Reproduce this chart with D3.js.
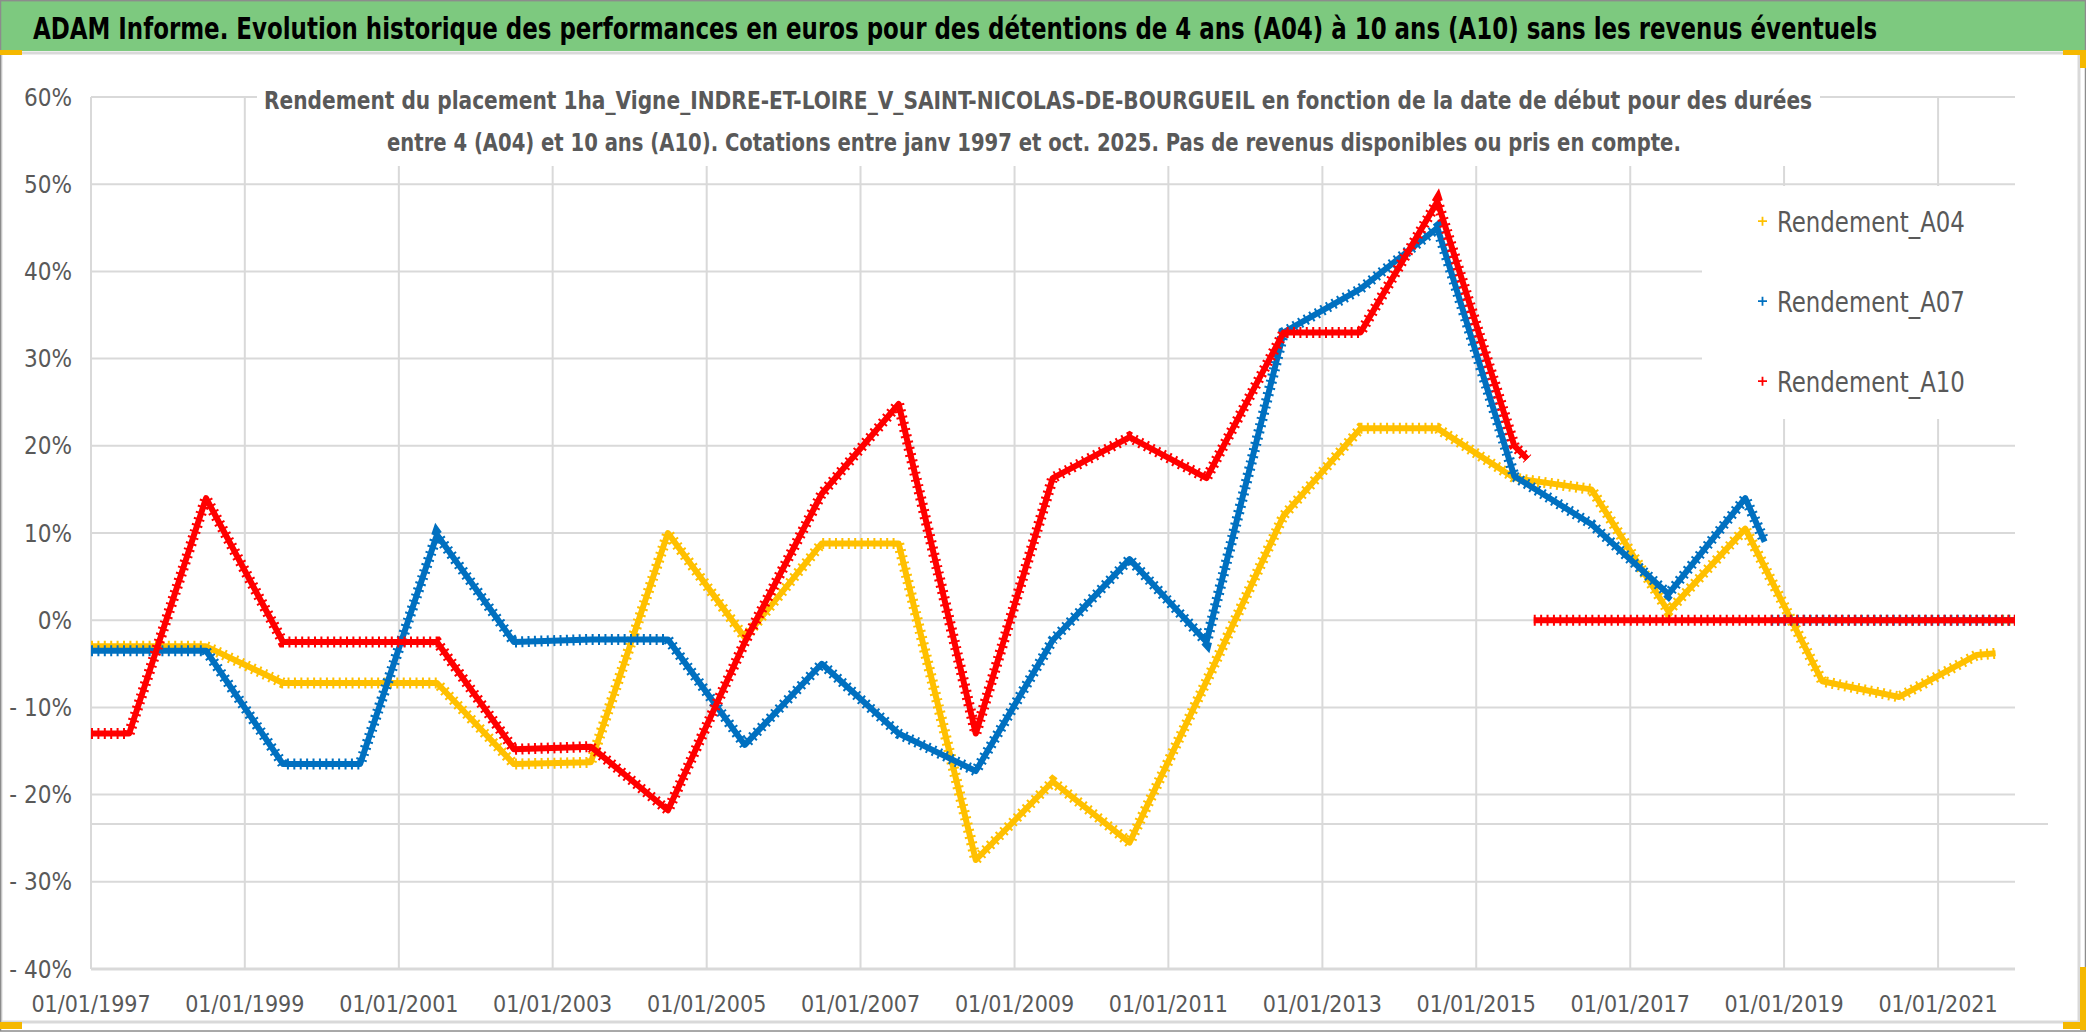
<!DOCTYPE html>
<html><head><meta charset="utf-8">
<script src="https://cdn.jsdelivr.net/npm/d3@7"></script>
<style>
html,body{margin:0;padding:0;background:#fff;overflow:hidden}
svg{display:block}
text{font-family:"Liberation Sans Narrow","DejaVu Sans Condensed","Roboto Condensed",sans-serif}
</style></head><body>
<svg id="chart" width="2086" height="1032"></svg>
<script>
// ---------- texts ----------
const titleText = "ADAM Informe. Evolution historique des performances en euros pour des détentions de 4 ans (A04) à 10 ans (A10) sans les revenus éventuels";
const subtitleLine1 = "Rendement du placement 1ha_Vigne_INDRE-ET-LOIRE_V_SAINT-NICOLAS-DE-BOURGUEIL en fonction de la date de début pour des durées";
const subtitleLine2 = "entre 4 (A04) et 10 ans (A10). Cotations entre janv 1997 et oct. 2025. Pas de revenus disponibles ou pris en compte.";

// ---------- series ----------
const seriesNames = ["Rendement_A04", "Rendement_A07", "Rendement_A10"];
const seriesColors = ["#FFC000", "#0070C0", "#FF0000"];

// dates (start of holding) and returns in %, null = break in the series
const datesA04 = ["1997-01","1998-07","1999-07","2001-07","2002-07","2003-07","2004-07","2005-07","2006-07","2007-07","2008-07","2009-07","2010-07","2011-07","2012-07","2013-07","2014-07","2015-07","2016-07","2017-07","2018-07","2019-07","2020-07","2021-07","2021-10","2021-10","2021-11","2022-01"];
const valuesA04 = [-3.0,-3.0,-7.2,-7.2,-16.5,-16.3,10.0,-2.0,8.8,8.8,-27.5,-18.5,-25.5,-7.0,12.0,22.0,22.0,16.3,15.0,1.0,10.5,-7.0,-8.8,-4.0,-3.8,null,0,0];

const datesA07 = ["1997-01","1998-07","1999-07","2000-07","2001-07","2002-07","2003-07","2004-07","2005-07","2006-07","2007-07","2008-07","2009-07","2010-07","2011-07","2012-07","2013-07","2014-07","2015-07","2016-07","2017-07","2018-07","2018-10","2018-10","2018-11","2022-01"];
const valuesA07 = [-3.5,-3.5,-16.5,-16.5,9.8,-2.5,-2.2,-2.2,-14.3,-5.0,-13.0,-17.3,-2.3,7.0,-2.5,33.0,38.0,45.0,16.5,11.0,3.0,14.0,9.0,null,0,0];

const datesA10 = ["1997-01","1997-07","1998-07","1999-07","2001-07","2002-07","2003-07","2004-07","2005-07","2006-07","2007-07","2008-07","2009-07","2010-07","2011-07","2012-07","2013-07","2014-07","2015-07","2015-09","2015-09","2015-10","2022-01"];
const valuesA10 = [-13.0,-13.0,14.0,-2.5,-2.5,-14.8,-14.5,-21.8,-2.5,14.5,24.8,-13.0,16.3,21.0,16.3,33.0,33.0,48.0,20.0,18.5,null,0,0];

// ---------- axes ----------
const yTickValues = [-40,-30,-20,-10,0,10,20,30,40,50,60];
const xTickYears = [1997,1999,2001,2003,2005,2007,2009,2011,2013,2015,2017,2019,2021];
const xDomain = ["1997-01","2022-01"];

// ---------- drawing ----------
const W = 2086, H = 1032;
const svg = d3.select("#chart");
const parse = d3.timeParse("%Y-%m");
const plot = {left: 91, right: 2015, top: 97, bottom: 969};

const x = d3.scaleTime().domain(xDomain.map(parse)).range([plot.left, plot.right]);
const y = d3.scaleLinear().domain([-40, 60]).range([plot.bottom, plot.top]);

const grey = "#d9d9d9", textGrey = "#595959";

// put a text at (px, py) and squeeze it horizontally to a target width
function fitText(parent, str, px, py, width, size, weight, fill) {
  const g = parent.append("g");
  const t = g.append("text").attr("x", 0).attr("y", 0).attr("font-size", size)
    .attr("font-weight", weight).attr("fill", fill).text(str);
  const natural = t.node().getComputedTextLength();
  const sx = natural > 0 ? width / natural : 1;
  g.attr("transform", `translate(${px},${py}) scale(${sx},1)`);
  return g;
}

// background
svg.append("rect").attr("width", W).attr("height", H).attr("fill", "#fff");

// green title bar
svg.append("rect").attr("x", 0).attr("y", 0).attr("width", W).attr("height", 51).attr("fill", "#7DC97F");
svg.append("line").attr("x1", 0).attr("x2", W).attr("y1", 0.5).attr("y2", 0.5).attr("stroke", "#8a9a8a").attr("stroke-width", 1.5);
fitText(svg, titleText, 33, 38.5, 1845, 30, "bold", "#000");

// chart area border
svg.append("rect").attr("x", 1).attr("y", 53).attr("width", 2078).attr("height", 969)
  .attr("fill", "none").attr("stroke", grey).attr("stroke-width", 3);
svg.append("rect").attr("x", 0.5).attr("y", 0.5).attr("width", W - 1).attr("height", H - 1.5)
  .attr("fill", "none").attr("stroke", "#8c8c8c").attr("stroke-width", 1.5);

// gridlines
const g = svg.append("g");
g.selectAll("line.h").data(yTickValues).join("line")
  .attr("x1", plot.left).attr("x2", plot.right)
  .attr("y1", d => y(d)).attr("y2", d => y(d))
  .attr("stroke", grey).attr("stroke-width", d => d === -40 ? 3 : 2);
g.selectAll("line.v").data(xTickYears).join("line")
  .attr("x1", d => x(parse(d + "-01"))).attr("x2", d => x(parse(d + "-01")))
  .attr("y1", plot.top).attr("y2", plot.bottom)
  .attr("stroke", grey).attr("stroke-width", 2);
// stray horizontal line present in the reference
svg.append("line").attr("x1", plot.left).attr("x2", 2048).attr("y1", 824).attr("y2", 824)
  .attr("stroke", grey).attr("stroke-width", 2);

// y axis labels
const fmtY = v => (v < 0 ? "- " + Math.abs(v) : v) + "%";
svg.selectAll("text.yl").data(yTickValues).join("text")
  .attr("x", 72).attr("y", d => y(d) + 8.5).attr("text-anchor", "end")
  .attr("font-size", 24).attr("fill", textGrey).text(fmtY);

// x axis labels
svg.selectAll("text.xl").data(xTickYears).join("text")
  .attr("x", d => x(parse(d + "-01"))).attr("y", 1011.5).attr("text-anchor", "middle")
  .attr("font-size", 23).attr("fill", textGrey).text(d => "01/01/" + d);

// chart title box (hides gridlines behind it)
svg.append("rect").attr("x", 257).attr("y", 80).attr("width", 1563).attr("height", 86).attr("fill", "#fff");
fitText(svg, subtitleLine1, 264, 109, 1549, 25, "bold", textGrey);
fitText(svg, subtitleLine2, 387, 151, 1295, 25, "bold", textGrey);

// series
const allSeries = [
  {dates: datesA04, values: valuesA04},
  {dates: datesA07, values: valuesA07},
  {dates: datesA10, values: valuesA10}
];
const line = d3.line().defined(d => d.v !== null).x(d => x(d.t)).y(d => y(d.v));
allSeries.forEach((s, i) => {
  const pts = s.dates.map((d, k) => ({t: parse(d), v: s.values[k]}));
  const col = seriesColors[i];
  svg.append("path").datum(pts).attr("d", line).attr("fill", "none")
    .attr("stroke", col).attr("stroke-width", 6).attr("stroke-linejoin", "round");
  svg.append("path").datum(pts).attr("d", line).attr("fill", "none")
    .attr("stroke", col).attr("stroke-width", 11).attr("stroke-dasharray", "2,4.4");
});

// legend
svg.append("rect").attr("x", 1702).attr("y", 186).attr("width", 313).attr("height", 233).attr("fill", "#fff");
seriesNames.forEach((name, i) => {
  const yy = 231.7 + i * 80;
  svg.append("path").attr("d", `M1758,${yy - 10.5}h9M1762.5,${yy - 15}v9`)
    .attr("stroke", seriesColors[i]).attr("stroke-width", 1.8);
  fitText(svg, name, 1777, yy, 188, 28, "normal", textGrey);
});

// selection handles (yellow)
const handles = [[0,50,22,5],[2063,50,23,5],[2080,50,6,18],[2080,967,6,63],[2063,1022,23,7],[0,1022,22,7]];
svg.selectAll("rect.h").data(handles).join("rect")
  .attr("x", d => d[0]).attr("y", d => d[1]).attr("width", d => d[2]).attr("height", d => d[3])
  .attr("fill", "#F5B800");
</script>
</body></html>
